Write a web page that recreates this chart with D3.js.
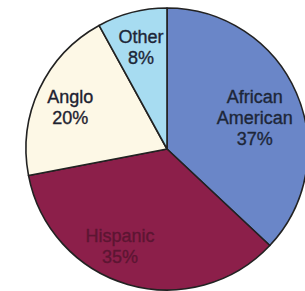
<!DOCTYPE html>
<html><head><meta charset="utf-8">
<script src="https://cdn.jsdelivr.net/npm/d3@7"></script>
<style>html,body{margin:0;padding:0;background:#fff;overflow:hidden}</style>
</head><body>
<script>
const categories = ["African American", "Hispanic", "Anglo", "Other"];
const values = [37, 35, 20, 8];
const labelLines = [["African", "American", "37%"], ["Hispanic", "35%"], ["Anglo", "20%"], ["Other", "8%"]];
const colors = ["#6a86c8", "#8c1f4a", "#fdf8e6", "#a7dcf1"];
const textColors = ["#1d2638", "#5c1532", "#1d2230", "#1d2638"];

const W = 305, H = 291, cx = 167, cy = 149, R = 141;
const svg = d3.select("body").append("svg").attr("width", W).attr("height", H);
const g = svg.append("g").attr("transform", `translate(${cx},${cy})`);
const pie = d3.pie().sort(null).value(d => d.v);
const data = pie(categories.map((c, i) => ({c, v: values[i], i})));
const arc = d3.arc().innerRadius(0).outerRadius(R);
g.selectAll("path").data(data).join("path")
  .attr("d", arc).attr("fill", d => colors[d.data.i])
  .attr("stroke", "#222").attr("stroke-width", 1.6).attr("stroke-linejoin", "round");

const labelR = [0.66, 0.765, 0.745, 0.74];
const labelF = [0.53, 0.576, 0.47, 0.5];
const lh = 21;
data.forEach(d => {
  const i = d.data.i;
  const a = d.startAngle + (d.endAngle - d.startAngle) * labelF[i];
  const r = R * labelR[i];
  const x = Math.sin(a) * r, y = -Math.cos(a) * r;
  const lines = labelLines[i];
  const t = g.append("text").attr("text-anchor", "middle")
    .attr("font-family", "Liberation Sans, Arial, sans-serif")
    .attr("font-size", 18).attr("fill", textColors[i])
    .attr("stroke", textColors[i]).attr("stroke-width", 0.35);
  lines.forEach((s, k) => {
    t.append("tspan").attr("x", x).attr("y", y + (k - (lines.length - 1) / 2) * lh + 6).text(s);
  });
});
</script>
</body></html>
